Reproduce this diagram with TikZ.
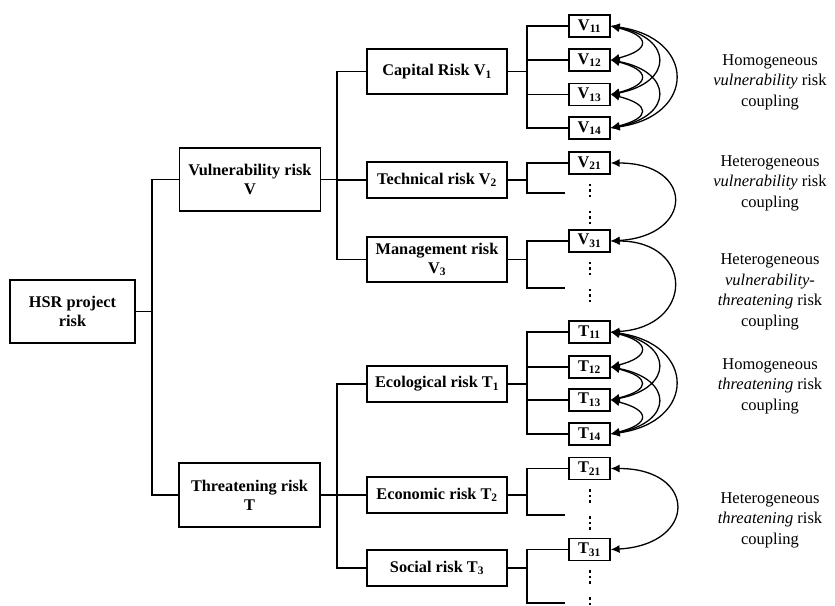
\documentclass[tikz,border=0pt]{standalone}
\usepackage{fontspec}
\setmainfont{Liberation Serif}
\usetikzlibrary{arrows.meta}
\begin{document}
\begin{tikzpicture}[x=1pt,y=-1pt,
  box/.style={draw, line width=1.2pt, inner sep=0pt, align=center,
    font=\bfseries\fontsize{16.3}{19}\selectfont},
  bigbox/.style={box, minimum width=141pt, minimum height=63pt},
  midbox/.style={box, minimum width=140pt, minimum height=36pt},
  leaf/.style={box, minimum width=41pt, minimum height=22pt},
  wire/.style={line width=1.4pt},
  coup/.style={line width=1.3pt, {Latex[length=9pt,width=8pt]}-{Latex[length=9pt,width=8pt]}},
  lbl/.style={align=center, font=\fontsize{16.5}{20.5}\selectfont},
  dot/.style={fill=black}
]
\useasboundingbox (0,0) rectangle (835,605);

% level 0 / 1
\node[box, minimum width=125pt, minimum height=63pt] (hsr) at (72.5,311.5) {HSR project\\risk};
\node[bigbox] (vul) at (250,179.5) {Vulnerability risk\\V};
\node[bigbox, minimum height=64pt] (thr) at (249.5,495) {Threatening risk\\T};

% level 2
\node[midbox, minimum height=45pt] (cap) at (437,71.5) {Capital Risk V\textsubscript{1}};
\node[midbox] (tec) at (437,180) {Technical risk V\textsubscript{2}};
\node[midbox, minimum height=45pt] (man) at (437,259.5) {Management risk\\V\textsubscript{3}};
\node[midbox] (eco) at (437,384) {Ecological risk T\textsubscript{1}};
\node[midbox] (ecn) at (437,495) {Economic risk T\textsubscript{2}};
\node[midbox] (soc) at (437,568) {Social risk T\textsubscript{3}};

% leaves
\node[leaf] (v11) at (589.5,26) {V\textsubscript{11}};
\node[leaf] (v12) at (589.5,60) {V\textsubscript{12}};
\node[leaf] (v13) at (589.5,94.5) {V\textsubscript{13}};
\node[leaf] (v14) at (589.5,128) {V\textsubscript{14}};
\node[leaf] (v21) at (589.5,163) {V\textsubscript{21}};
\node[leaf] (v31) at (589.5,241) {V\textsubscript{31}};
\node[leaf] (t11) at (589.5,332) {T\textsubscript{11}};
\node[leaf] (t12) at (589.5,367) {T\textsubscript{12}};
\node[leaf] (t13) at (589.5,400) {T\textsubscript{13}};
\node[leaf] (t14) at (589.5,434) {T\textsubscript{14}};
\node[leaf] (t21) at (589.5,468.5) {T\textsubscript{21}};
\node[leaf] (t31) at (589.5,549.5) {T\textsubscript{31}};

% junctions and free ends
\coordinate (j0) at (152,311.5);
\coordinate (jv) at (337,179.5);
\coordinate (jt) at (337,495);
\coordinate (jcap) at (527,71.5);
\coordinate (jtec) at (527,180);
\coordinate (jman) at (527,259.5);
\coordinate (jeco) at (527,384);
\coordinate (jecn) at (527,495);
\coordinate (jsoc) at (527,568);
\coordinate (etec) at (565,193);
\coordinate (eman) at (565,288);
\coordinate (eecn) at (565,515);
\coordinate (esoc) at (565,603);

% tree wires
\draw[wire] (hsr.east) -- (j0);
\draw[wire] (vul.west) -| (j0);
\draw[wire] (thr.west) -| (j0);

\draw[wire] (vul.east) -- (jv);
\draw[wire] (cap.west) -| (jv);
\draw[wire] (tec.west) -| (jv);
\draw[wire] (man.west) -| (jv);

\draw[wire] (thr.east) -- (jt);
\draw[wire] (eco.west) -| (jt);
\draw[wire] (ecn.west) -| (jt);
\draw[wire] (soc.west) -| (jt);

\draw[wire] (cap.east) -- (jcap);
\draw[wire] (v11.west) -| (jcap);
\draw[wire] (v12.west) -| (jcap);
\draw[wire] (v13.west) -| (jcap);
\draw[wire] (v14.west) -| (jcap);

\draw[wire] (tec.east) -- (jtec);
\draw[wire] (v21.west) -| (jtec);
\draw[wire] (etec) -| (jtec);

\draw[wire] (man.east) -- (jman);
\draw[wire] (v31.west) -| (jman);
\draw[wire] (eman) -| (jman);

\draw[wire] (eco.east) -- (jeco);
\draw[wire] (t11.west) -| (jeco);
\draw[wire] (t12.west) -| (jeco);
\draw[wire] (t13.west) -| (jeco);
\draw[wire] (t14.west) -| (jeco);

\draw[wire] (ecn.east) -- (jecn);
\draw[wire] (t21.west) -| (jecn);
\draw[wire] (eecn) -| (jecn);

\draw[wire] (soc.east) -- (jsoc);
\draw[wire] (t31.west) -| (jsoc);
\draw[wire] (esoc) -| (jsoc);

% vertical ellipses
\foreach \b in {174,252,479.5,560.5}{
  \foreach \d in {11,16.5,22,38,43.5,49}{
    \fill[dot] (588.6,\b+\d-1.4) rectangle ++(2.8,2.8);
  }
}

% couplings: homogeneous vulnerability
\draw[coup] (v11.east) .. controls +(40,10) and +(40,-10) .. (v12.east);
\draw[coup] (v12.east) .. controls +(40,10) and +(40,-10) .. (v13.east);
\draw[coup] (v13.east) .. controls +(40,10) and +(40,-10) .. (v14.east);
\draw[coup] (v11.east) .. controls +(63,12) and +(63,-12) .. (v13.east);
\draw[coup] (v12.east) .. controls +(63,12) and +(63,-12) .. (v14.east);
\draw[coup] (v11.east) .. controls +(86,12) and +(86,-12) .. (v14.east);
% heterogeneous
\draw[coup] (v21.east) .. controls +(84,0) and +(84,-5) .. (v31.east);
\draw[coup] (v31.east) .. controls +(84,0) and +(84,-5) .. (t11.east);
% homogeneous threatening
\draw[coup] (t11.east) .. controls +(40,10) and +(40,-10) .. (t12.east);
\draw[coup] (t12.east) .. controls +(40,10) and +(40,-10) .. (t13.east);
\draw[coup] (t13.east) .. controls +(40,10) and +(40,-10) .. (t14.east);
\draw[coup] (t11.east) .. controls +(63,12) and +(63,-12) .. (t13.east);
\draw[coup] (t12.east) .. controls +(63,12) and +(63,-12) .. (t14.east);
\draw[coup] (t11.east) .. controls +(86,12) and +(86,-12) .. (t14.east);
% heterogeneous threatening
\draw[coup] (t21.east) .. controls +(87,0) and +(87,-5) .. (t31.east);

% labels
\node[lbl] (l1) at (770,82) {Homogeneous\\\textit{vulnerability} risk\\coupling};
\node[lbl] (l2) at (770,183) {Heterogeneous\\\textit{vulnerability} risk\\coupling};
\node[lbl] (l3) at (770,292) {Heterogeneous\\\textit{vulnerability-}\\\textit{threatening} risk\\coupling};
\node[lbl] (l4) at (770,386) {Homogeneous\\\textit{threatening} risk\\coupling};
\node[lbl] (l5) at (770,520) {Heterogeneous\\\textit{threatening} risk\\coupling};
\end{tikzpicture}
\end{document}
